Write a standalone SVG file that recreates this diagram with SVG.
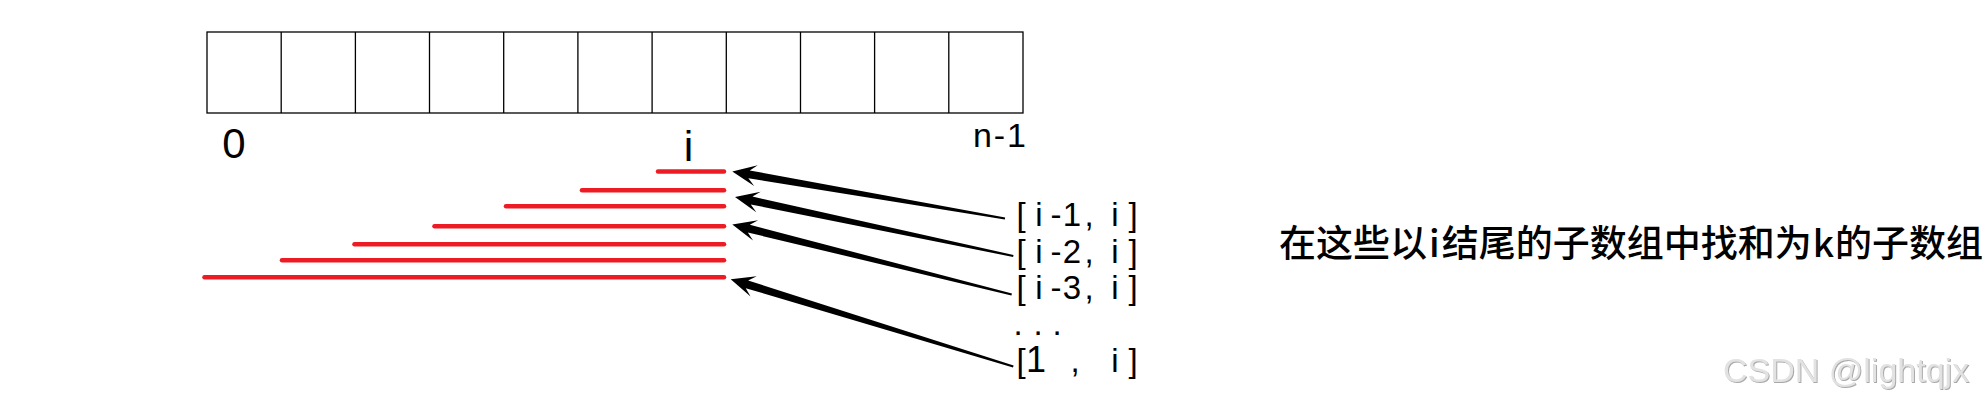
<svg xmlns="http://www.w3.org/2000/svg" width="1988" height="407" viewBox="0 0 1988 407">
<defs>
<style>
.cell{fill:none;stroke:#000;stroke-width:1.3}
.seg{stroke:#ED1C24;stroke-width:4.5;stroke-linecap:round;fill:none}
.arr{fill:#000;stroke:none}
.lbl{font-family:"Liberation Sans",Arial,sans-serif;fill:#000}
.rng{font-family:"Liberation Sans",Arial,sans-serif;font-size:33px;fill:#000;text-anchor:middle}
.cjk{font-family:"Noto Sans CJK SC",sans-serif;font-size:37px;font-weight:500;fill:#000}
.wm{font-family:"Liberation Sans",Arial,sans-serif;font-size:34px;fill:#e2e2e2}
</style>
<filter id="emb" x="-5%" y="-20%" width="110%" height="140%">
<feDropShadow dx="1" dy="1" stdDeviation="0.6" flood-color="#a8a8a8"/>
</filter>
</defs>
<rect width="1988" height="407" fill="#fff"/>
<g id="array">
<rect class="cell" x="207" y="32" width="816" height="81"/>
<path class="cell" d="M281.2 32V113M355.4 32V113M429.5 32V113M503.7 32V113M577.9 32V113M652.1 32V113M726.3 32V113M800.5 32V113M874.6 32V113M948.8 32V113"/>
<text class="lbl" x="234" y="158" font-size="42" text-anchor="middle">0</text>
<text class="lbl" x="688.5" y="160.5" font-size="43" text-anchor="middle">i</text>
<text class="lbl" x="973" y="146.7" font-size="34" textLength="53" lengthAdjust="spacing">n-1</text>
</g>
<g id="subarrays">
<line class="seg" x1="658" y1="171.5" x2="724" y2="171.5"/>
<line class="seg" x1="582" y1="190.3" x2="724" y2="190.3"/>
<line class="seg" x1="506" y1="206.3" x2="724" y2="206.3"/>
<line class="seg" x1="434.5" y1="226.3" x2="724" y2="226.3"/>
<line class="seg" x1="354.5" y1="244.3" x2="724" y2="244.3"/>
<line class="seg" x1="282" y1="260.3" x2="724" y2="260.3"/>
<line class="seg" x1="204.5" y1="277.3" x2="724" y2="277.3"/>
</g>
<g id="connectors">
<polygon class="arr" points="732.3,171.5 754.17,185.93 748.37,178.33 1004.83,219.49 1005.17,217.51 749.73,170.45 757.73,165.23"/>
<polygon class="arr" points="735,197 756.3,212.25 750.8,204.44 1013.09,256.98 1013.51,255.02 752.46,196.62 760.66,191.71"/>
<polygon class="arr" points="732.3,224.5 753.03,240.52 747.82,232.51 1011.46,295.47 1011.94,293.53 749.76,224.75 758.13,220.14"/>
<polygon class="arr" points="730.7,279.3 750.53,296.41 745.76,288.13 1013.01,367.46 1013.59,365.54 748.12,280.49 756.73,276.35"/>
</g>
<g id="labels">
<text class="rng" x="1021 1039 1056 1072 1089 1101 1115 1133" y="226">[i-1, i]</text>
<text class="rng" x="1021 1039 1056 1072 1089 1101 1115 1133" y="262.5">[i-2, i]</text>
<text class="rng" x="1021 1039 1056 1072 1089 1101 1115 1133" y="299">[i-3, i]</text>
<text class="rng" x="1018 1038 1057" y="335">...</text>
<text class="rng" x="1021 1036 1055 1075 1094 1115 1133" y="372">[<tspan font-size="36">1</tspan> , i]</text>
</g>
<g id="note">
<text class="cjk" x="1279" y="257">在这些以<tspan dx="2">i</tspan><tspan dx="2">结尾的子数组中找和为</tspan><tspan dx="1">k</tspan><tspan dx="1">的子数组</tspan></text>
</g>
<text class="wm" x="1723" y="382" filter="url(#emb)">CSDN @lightqjx</text>
</svg>
